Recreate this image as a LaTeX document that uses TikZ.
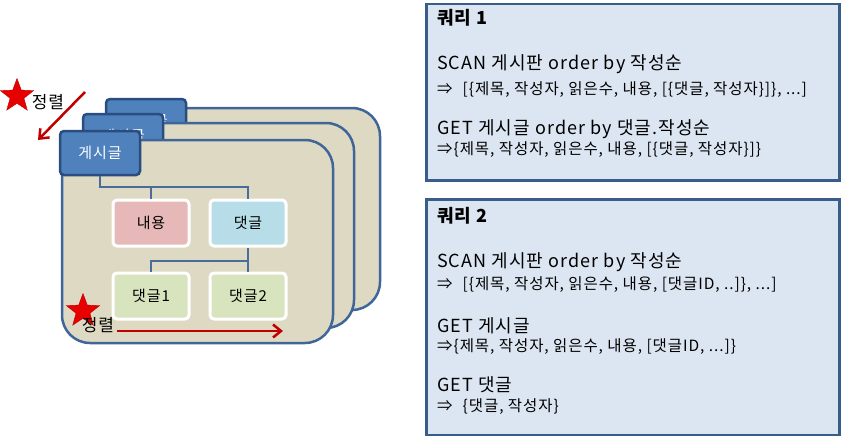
\documentclass[tikz,border=0pt]{standalone}
\usepackage{fontspec}
\setmainfont{Noto Sans CJK KR}[LetterSpace=6]
\usetikzlibrary{shapes.geometric,arrows.meta}
\definecolor{cardfill}{HTML}{DDD9C3}
\definecolor{cardline}{HTML}{3F6599}
\definecolor{tabfill}{HTML}{4F81BD}
\definecolor{tabline}{HTML}{2A4C7E}
\definecolor{naefill}{HTML}{E6B9B8}
\definecolor{datfill}{HTML}{B7DEE8}
\definecolor{subfill}{HTML}{D7E4BD}
\definecolor{qfill}{HTML}{DCE6F2}
\definecolor{qline}{HTML}{385D8A}
\definecolor{sortred}{HTML}{C00000}
\definecolor{starred}{HTML}{E60000}
\definecolor{linkblue}{HTML}{4A6C9B}
\tikzset{
	% one post card of the stack
	card/.style={fill=cardfill,draw=cardline,line width=2.5pt,rounded corners=28pt},
	% the blue title tab of a card
	tabbox/.style={fill=tabfill,draw=tabline,line width=2.5pt,rounded corners=4pt,
		minimum width=80pt,minimum height=44pt,text=white,font=\fontsize{15}{17}\selectfont},
	% inner boxes of the front card
	itembox/.style={draw=white,line width=3pt,rounded corners=4pt,
		minimum width=76pt,minimum height=46pt,font=\fontsize{15}{17}\selectfont},
	link/.style={draw=linkblue,line width=2.3pt},
	sortarrow/.style={draw=sortred,line width=2.5pt,-{Straight Barb[length=8pt,width=13pt]}},
	sortstar/.style={star,star points=5,star point ratio=2.4,fill=starred,draw=sortred,
		minimum size=35pt,inner sep=0pt},
	sortlabel/.style={font=\fontsize{17}{19}\selectfont,inner sep=0pt},
	qbox/.style={fill=qfill,draw=qline,line width=2.5pt,anchor=north west,minimum width=413pt},
	qtitle/.style={anchor=base west,inner sep=0pt,font=\bfseries\fontsize{18}{20}\selectfont},
	qline/.style={anchor=base west,inner sep=0pt,font=\fontsize{18}{20}\selectfont},
	qres/.style={anchor=base west,inner sep=0pt,font=\fontsize{15.5}{17}\selectfont},
}
\begin{document}
\begin{tikzpicture}[x=1pt,y=-1pt]
		\useasboundingbox (0,0) rectangle (843,436);
		% stack of posts, back to front
		\path[card] (107,108) rectangle (380,310);
		\node[tabbox] (tab3) at (146,121) {게시글};
		\path[card] (84,123) rectangle (354,328);
		\node[tabbox] (tab2) at (123,136) {게시글};
		\path[card] (62,140) rectangle (333,343);
		\node[tabbox] (tab1) at (100,153) {게시글};
		\node[itembox,fill=naefill] (nae) at (151,223) {내용};
		\node[itembox,fill=datfill] (dat) at (248,223) {댓글};
		\node[itembox,fill=subfill] (dat1) at (151,296) {댓글1};
		\node[itembox,fill=subfill] (dat2) at (248,296) {댓글2};
		\draw[link] (tab1.south) |- (0,187 -| nae.north) -| (dat.north);
		\draw[link] (nae.north) -- (nae.north |- 0,187);
		\draw[link] (dat.south) -- (dat2.north);
		\draw[link] (dat.south |- 0,261) -| (dat1.north);
		% sort marks
		\node[sortstar] (st1) at (17,96) {};
		\node[sortlabel] (srt1) at (48,102) {정렬};
		\coordinate (a1) at (85,92);
		\coordinate (b1) at (38,140);
		\draw[sortarrow] (a1) -- (b1);
		\node[sortstar] (st2) at (83,311) {};
		\node[sortlabel] (srt2) at (98,325) {정렬};
		\coordinate (a2) at (117,331);
		\coordinate (b2) at (283,331);
		\draw[sortarrow] (a2) -- (b2);
		% query 1
		\node[qbox,minimum height=176pt] (q1) at (425,3) {};
		\node[qtitle] at (437,25) {쿼리 1};
		\node[qline] at (437,70) {SCAN 게시판 order by 작성순};
		\node[qres] at (437,94) {⇒\hspace{10pt}[\{제목, 작성자, 읽은수, 내용, [\{댓글, 작성자\}]\}, ...]};
		\node[qline] at (437,134) {GET 게시글 order by 댓글.작성순};
		\node[qres] at (437,154) {⇒\{제목, 작성자, 읽은수, 내용, [\{댓글, 작성자\}]\}};
		% query 2
		\node[qbox,minimum height=236pt] (q2) at (425,198) {};
		\node[qtitle] at (437,222) {쿼리 2};
		\node[qline] at (437,267) {SCAN 게시판 order by 작성순};
		\node[qres] at (437,289) {⇒\hspace{10pt}[\{제목, 작성자, 읽은수, 내용, [댓글ID, ..]\}, ...]};
		\node[qline] at (437,332) {GET 게시글};
		\node[qres] at (437,351) {⇒\{제목, 작성자, 읽은수, 내용, [댓글ID, ...]\}};
		\node[qline] at (437,391) {GET 댓글};
		\node[qres] at (437,411) {⇒\hspace{10pt}\{댓글, 작성자\}};
		\end{tikzpicture}
\end{document}
